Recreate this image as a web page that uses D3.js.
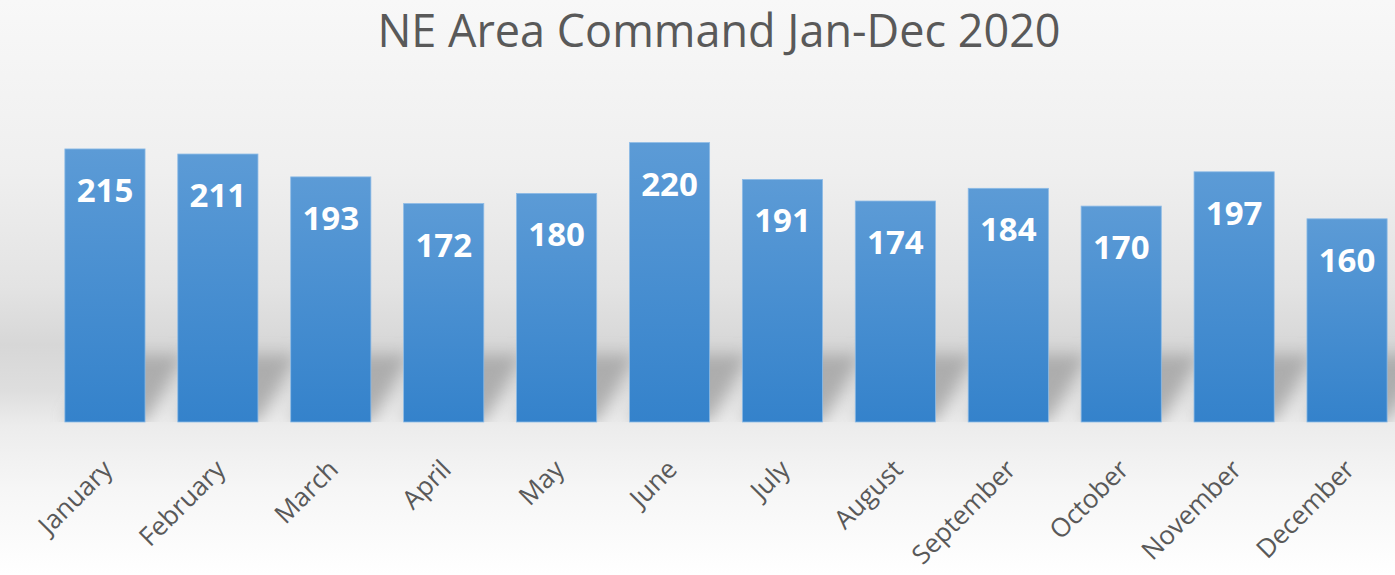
<html>
  <head>
    <script src="https://d3js.org/d3.v7.min.js"></script>
    <style>
      body { margin: 0; }
      .title {
        font-family: "Open Sans", sans-serif;
        font-size: 45px;
        fill: #595959;
        text-anchor: middle;
      }
      .month-label {
        font-family: "Open Sans", sans-serif;
        font-size: 26px;
        fill: #595959;
      }
      .value-label {
        font-family: "Open Sans", sans-serif;
        font-weight: bold;
        font-size: 33px;
        fill: white;
        text-anchor: middle;
      }
    </style>
  </head>
  <body>
    <svg id="chart" width="1395" height="575"></svg>
    <script>
      // data
      const months = ["January", "February", "March", "April", "May", "June",
                      "July", "August", "September", "October", "November", "December"];
      const counts = [215, 211, 193, 172, 180, 220, 191, 174, 184, 170, 197, 160];
      const yDomain = [0, 250];
      const chartTitle = "NE Area Command Jan-Dec 2020";

      const svg = d3.select("svg#chart");
      const width = +svg.attr("width");
      const height = +svg.attr("height");
      const plot = {left: 48.5, right: 1403.5, top: 104.5, bottom: 422};

      const defs = svg.append("defs");

      // page background: light grey gradient, darker band behind bar bottoms
      const bg = defs.append("linearGradient")
        .attr("id", "bg").attr("x1", 0).attr("y1", 0).attr("x2", 0).attr("y2", 1);
      [[0, "#f8f8f8"], [0.3, "#efefef"], [0.5, "#e3e3e3"], [0.6, "#d7d7d7"],
       [0.68, "#dedede"], [0.74, "#ececec"], [0.85, "#f6f6f6"], [1, "#ffffff"]]
        .forEach(s => bg.append("stop").attr("offset", s[0]).attr("stop-color", s[1]));

      const barGrad = defs.append("linearGradient")
        .attr("id", "barGrad").attr("x1", 0).attr("y1", 0).attr("x2", 0).attr("y2", 1);
      barGrad.append("stop").attr("offset", 0).attr("stop-color", "#5c9bd6");
      barGrad.append("stop").attr("offset", 1).attr("stop-color", "#3482cb");

      defs.append("filter").attr("id", "blur")
        .attr("x", "-50%").attr("y", "-50%").attr("width", "200%").attr("height", "200%")
        .append("feGaussianBlur").attr("stdDeviation", 8);

      defs.append("clipPath").attr("id", "aboveBase")
        .append("rect").attr("x", 0).attr("y", 0).attr("width", width).attr("height", plot.bottom);

      svg.append("rect")
        .attr("width", width).attr("height", height)
        .attr("fill", "url(#bg)");

      const x = d3.scaleBand()
        .domain(months)
        .range([plot.left, plot.right])
        .paddingInner(0.29)
        .paddingOuter(0.145);

      const y = d3.scaleLinear()
        .domain(yDomain)
        .range([plot.bottom, plot.top]);

      const bw = x.bandwidth();

      // perspective shadows behind the bars
      const shadowH = 68, shadowDx = 40;
      svg.append("g")
        .attr("clip-path", "url(#aboveBase)")
        .append("g")
        .attr("filter", "url(#blur)")
        .selectAll("path")
        .data(months)
        .join("path")
        .attr("d", m => {
          const x0 = x(m), x1 = x(m) + bw, b = y(0);
          return `M${x0},${b}L${x1},${b}L${x1 + shadowDx},${b - shadowH}L${x0 + shadowDx},${b - shadowH}Z`;
        })
        .attr("fill", "#949494")
        .attr("opacity", 0.65);

      // bars
      svg.append("g")
        .selectAll("rect")
        .data(counts)
        .join("rect")
        .attr("x", (d, i) => x(months[i]))
        .attr("y", d => y(d))
        .attr("width", bw)
        .attr("height", d => y(0) - y(d))
        .attr("fill", "url(#barGrad)")
        .attr("stroke", "#8dbbe6")
        .attr("stroke-width", 0.8);

      // value labels inside bar tops
      svg.append("g")
        .selectAll("text")
        .data(counts)
        .join("text")
        .attr("class", "value-label")
        .attr("x", (d, i) => x(months[i]) + bw / 2)
        .attr("y", d => y(d) + 53)
        .text(d => d);

      // category axis, labels rotated
      const xAxis = d3.axisBottom(x).tickSize(0).tickPadding(0);
      const gx = svg.append("g")
        .attr("transform", `translate(0,${plot.bottom})`)
        .call(xAxis);
      gx.select(".domain").remove();
      gx.selectAll(".tick text")
        .attr("class", "month-label")
        .attr("text-anchor", "end")
        .attr("dy", null)
        .attr("y", 0)
        .attr("transform", "translate(9,49) rotate(-45)");

      svg.append("text")
        .attr("class", "title")
        .attr("x", 719)
        .attr("y", 47)
        .text(chartTitle);
    </script>
  </body>
</html>
